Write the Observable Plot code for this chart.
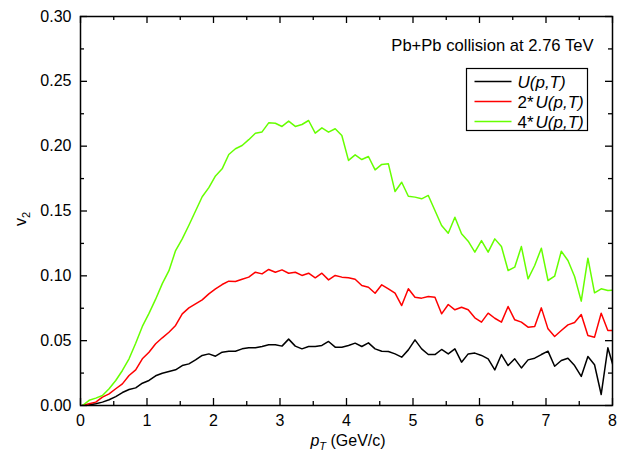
<!DOCTYPE html>
<html><head><meta charset="utf-8">
<script src="https://cdn.jsdelivr.net/npm/d3@7"></script>
<script src="https://cdn.jsdelivr.net/npm/@observablehq/plot@0.6"></script>
<style>
body{margin:0;background:#fff;}
#chart{position:relative;width:635px;height:459px;}
</style>
</head><body><div id="chart"></div>
<script>
// transverse momentum grid (GeV/c)
const pT = [0.03,0.13,0.23,0.33,0.43,0.53,0.63,0.73,0.83,0.93,
  1.03,1.13,1.23,1.33,1.43,1.53,1.63,1.73,1.83,1.93,
  2.03,2.13,2.23,2.33,2.43,2.53,2.63,2.73,2.83,2.93,
  3.03,3.13,3.23,3.33,3.43,3.53,3.63,3.73,3.83,3.93,
  4.03,4.13,4.23,4.33,4.43,4.53,4.63,4.73,4.83,4.93,
  5.03,5.13,5.23,5.33,5.43,5.53,5.63,5.73,5.83,5.93,
  6.03,6.13,6.23,6.33,6.43,6.53,6.63,6.73,6.83,6.93,
  7.03,7.13,7.23,7.33,7.43,7.53,7.63,7.73,7.83,7.93,8.03];

const seriesNames = ["U(p,T)", "2*U(p,T)", "4*U(p,T)"];
const seriesColors = ["#000000", "#ff0000", "#66ff00"];

const v2U = [0,0.0005,0.0013,0.0026,0.0044,0.0069,0.01,0.0123,0.0136,0.0172,
  0.0193,0.0229,0.0249,0.0262,0.0275,0.0308,0.0321,0.0352,0.0386,0.0398,
  0.038,0.0411,0.0419,0.0419,0.0437,0.0445,0.0445,0.0455,0.0468,0.0468,
  0.0458,0.0512,0.0458,0.0437,0.0455,0.0455,0.0463,0.0494,0.045,
  0.045,0.0463,0.0481,0.0455,0.0483,0.0437,0.0419,0.0416,0.0398,0.0373,
  0.0429,0.0506,0.0437,0.0393,0.0393,0.0432,0.0398,0.0437,0.0334,0.0398,
  0.0404,0.0386,0.036,0.0275,0.0393,0.0308,0.036,0.029,0.0352,0.0365,
  0.0393,0.0419,0.0303,0.0347,0.0365,0.0308,0.0224,0.0378,0.0314,0.0085,
  0.0445,0.027];

const v2U2 = [0,0.0013,0.0026,0.0064,0.009,0.0129,0.0167,0.0231,0.0275,0.036,
  0.0411,0.0476,0.0522,0.0565,0.0617,0.0707,0.0753,0.0784,0.0815,0.0861,
  0.09,0.0933,0.0959,0.0956,0.0974,0.099,0.1028,0.1015,0.1049,0.1028,
  0.1046,0.102,0.1028,0.1003,0.102,0.0985,0.102,0.0969,0.1003,
  0.099,0.0985,0.0974,0.0925,0.0912,0.0866,0.0931,0.09,0.0866,0.0771,
  0.09,0.0835,0.0828,0.0841,0.0835,0.0707,0.0779,0.0738,0.0758,0.0738,
  0.0676,0.0643,0.0712,0.0673,0.0643,0.0763,0.0661,0.0643,0.0604,0.0609,
  0.0753,0.0591,0.0532,0.0578,0.0622,0.064,0.0702,0.054,0.0527,0.0712,
  0.0578,0.0578];

const v2U4 = [0,0.004,0.0057,0.0077,0.0129,0.0193,0.027,0.036,0.048,0.061,
  0.071,0.082,0.094,0.104,0.1195,0.1285,0.139,0.150,0.161,0.168,
  0.177,0.1825,0.1936,0.198,0.2005,0.205,0.210,0.211,0.218,0.2177,
  0.2152,0.2193,0.2152,0.2167,0.2198,0.210,0.2141,0.2108,0.2134,
  0.2082,0.189,0.1933,0.1897,0.192,0.1817,0.1859,0.1864,0.165,0.1722,
  0.1614,0.1607,0.1594,0.162,0.1504,0.1388,0.1329,0.1452,0.1324,0.1267,
  0.1183,0.1272,0.1183,0.1285,0.1226,0.1041,0.1067,0.1226,0.0977,0.108,
  0.1213,0.0964,0.0997,0.119,0.1118,0.0995,0.0805,0.1136,0.0869,0.09,
  0.0887,0.089];

const xMajor = [0,1,2,3,4,5,6,7,8];
const xMinor = [0.5,1.5,2.5,3.5,4.5,5.5,6.5,7.5];
const yMajor = [0,0.05,0.10,0.15,0.20,0.25,0.30];
const yMinor = [0.025,0.075,0.125,0.175,0.225,0.275];
const annotation = "Pb+Pb collision at 2.76 TeV";

const allSeries = [v2U, v2U2, v2U4];
const data = [];
allSeries.forEach((vals, s) => vals.forEach((v, i) => data.push({pT: pT[i], v2: v, series: seriesNames[s]})));

const W = 635, H = 459, mL = 80, mR = 23, mT = 16, mB = 54;
const pw = W - mL - mR, ph = H - mT - mB;
const font = "'Liberation Sans', Arial, sans-serif";

const plot = Plot.plot({
  width: W, height: H,
  marginLeft: mL, marginRight: mR, marginTop: mT, marginBottom: mB,
  style: {fontFamily: font, fontSize: "16px", color: "#000", background: "#fff"},
  x: {domain: [0, 8], axis: null},
  y: {domain: [0, 0.3], axis: null},
  color: {domain: seriesNames, range: seriesColors},
  marks: [
    Plot.line(data, {x: "pT", y: "v2", z: "series", stroke: "series", strokeWidth: 1.5, clip: true}),
    // inward ticks on all four sides
    Plot.tickY(yMajor, {y: d => d, insetRight: pw - 7, strokeWidth: 1.3}),
    Plot.tickY(yMinor, {y: d => d, insetRight: pw - 4, strokeWidth: 1.3}),
    Plot.tickY(yMajor, {y: d => d, insetLeft: pw - 7, strokeWidth: 1.3}),
    Plot.tickY(yMinor, {y: d => d, insetLeft: pw - 4, strokeWidth: 1.3}),
    Plot.tickX(xMajor, {x: d => d, insetTop: ph - 7, strokeWidth: 1.3}),
    Plot.tickX(xMinor, {x: d => d, insetTop: ph - 4, strokeWidth: 1.3}),
    Plot.tickX(xMajor, {x: d => d, insetBottom: ph - 7, strokeWidth: 1.3}),
    Plot.tickX(xMinor, {x: d => d, insetBottom: ph - 4, strokeWidth: 1.3}),
    Plot.axisY(yMajor, {tickSize: 0, tickPadding: 9, tickFormat: d3.format(".2f"), label: null, fontSize: 16}),
    Plot.axisX(xMajor, {tickSize: 0, tickPadding: 9, tickFormat: d3.format("d"), label: null, fontSize: 16}),
    Plot.frame({stroke: "#000", strokeWidth: 1.5}),
    Plot.text([annotation], {text: d => d, frameAnchor: "top-right", textAnchor: "end", lineAnchor: "top", dx: -19, dy: 22.3, fontSize: 16.6})
  ]
});
document.getElementById("chart").appendChild(plot);

const svg = d3.select(plot);
// y axis label v_2
const yl = svg.append("text")
  .attr("transform", `translate(${mL - 54},219) rotate(-90)`)
  .attr("text-anchor", "middle")
  .attr("font-family", font).attr("font-size", 16).attr("fill", "#000");
yl.append("tspan").text("v");
yl.append("tspan").attr("font-size", 11).attr("dy", 4).text("2");

// x axis label p_T (GeV/c)
const xl = svg.append("text")
  .attr("x", mL + pw / 2 + 2).attr("y", 446)
  .attr("text-anchor", "middle")
  .attr("font-family", font).attr("font-size", 16).attr("fill", "#000");
xl.append("tspan").attr("font-style", "italic").text("p");
xl.append("tspan").attr("font-style", "italic").attr("font-size", 11).attr("dy", 4).text("T");
xl.append("tspan").attr("dy", -4).text(" (GeV/c)");

// legend
const lg = svg.append("g").attr("transform", "translate(466.5,68.5)");
lg.append("rect").attr("width", 121).attr("height", 62).attr("fill", "#fff").attr("stroke", "#000").attr("stroke-width", 1.2);
seriesNames.forEach((name, i) => {
  const y = 13 + i * 20;
  lg.append("line").attr("x1", 8).attr("x2", 45).attr("y1", y).attr("y2", y)
    .attr("stroke", seriesColors[i]).attr("stroke-width", 1.5);
  const t = lg.append("text").attr("x", 51).attr("y", y + 6)
    .attr("text-anchor", "start")
    .attr("font-family", font).attr("font-size", 17).attr("fill", "#000");
  const star = name.indexOf("*");
  if (star >= 0) {
    t.append("tspan").text(name.slice(0, star + 1));
    t.append("tspan").attr("font-style", "italic").attr("dx", 2).text(name.slice(star + 1));
  } else {
    t.append("tspan").attr("font-style", "italic").text(name);
  }
});
</script>
</body></html>
